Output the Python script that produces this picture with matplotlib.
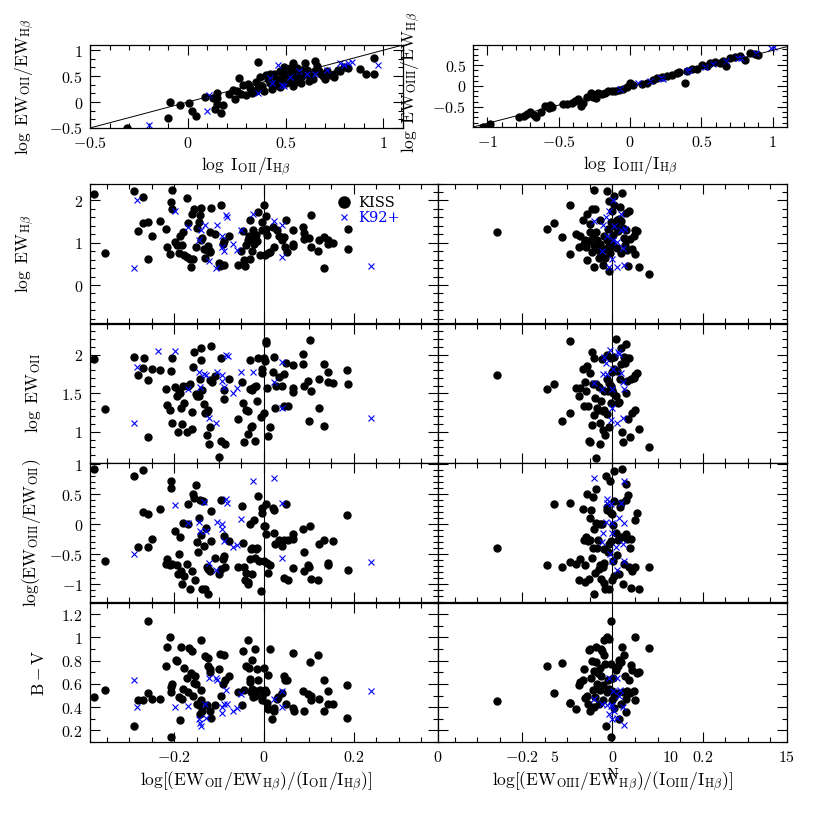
import numpy as np
import matplotlib
matplotlib.use('Agg')
import matplotlib.pyplot as plt
from matplotlib.ticker import MultipleLocator, FuncFormatter, NullFormatter

plt.rcParams['mathtext.fontset'] = 'cm'
plt.rcParams['font.family'] = 'serif'

# ---- top panels: EW ratio vs line intensity ratio ----
oii_kiss = [(-0.31, -0.50), (-0.09, 0.0), (-0.10, -0.31), (-0.04, -0.065), (0.007, -0.02), (0.02, -0.18),
            (0.04, -0.26), (0.086, 0.10), (0.13, 0.07), (0.14, -0.13), (0.15, 0.18), (0.15, -0.03),
            (0.17, -0.22), (0.18, -0.05), (0.15, 0.08), (0.21, 0.16), (0.23, 0.24), (0.25, 0.22),
            (0.26, 0.46), (0.28, 0.32), (0.30, 0.13), (0.31, 0.35), (0.32, 0.28), (0.35, 0.22),
            (0.36, 0.77), (0.35, 0.38), (0.37, 0.48), (0.38, 0.30), (0.40, 0.52), (0.39, 0.22),
            (0.42, 0.37), (0.43, 0.26), (0.44, 0.55), (0.45, 0.42), (0.46, 0.36), (0.47, 0.59),
            (0.48, 0.48), (0.49, 0.68), (0.50, 0.36), (0.51, 0.55), (0.52, 0.43), (0.53, 0.62),
            (0.54, 0.75), (0.54, 0.50), (0.55, 0.39), (0.56, 0.65), (0.57, 0.59), (0.58, 0.49),
            (0.59, 0.52), (0.60, 0.75), (0.61, 0.62), (0.63, 0.49), (0.65, 0.80), (0.65, 0.59),
            (0.66, 0.70), (0.68, 0.55), (0.70, 0.45), (0.71, 0.59), (0.73, 0.52), (0.75, 0.49),
            (0.75, 0.55), (0.77, 0.62), (0.78, 0.59), (0.80, 0.68), (0.82, 0.65), (0.88, 0.63),
            (0.91, 0.55), (0.95, 0.84), (0.95, 0.55), (0.41, 0.45), (0.44, 0.33), (0.47, 0.44),
            (0.49, 0.52), (0.50, 0.60), (0.52, 0.66), (0.55, 0.58), (0.57, 0.45), (0.58, 0.62),
            (0.62, 0.55), (0.64, 0.45), (0.67, 0.60), (0.69, 0.50), (0.47, 0.29), (0.42, 0.55),
            (0.36, 0.28), (0.33, 0.17), (0.27, 0.15), (0.24, 0.05), (0.54, 0.30), (0.58, 0.36),
            (0.62, 0.40)]
oii_k92 = [(-0.20, -0.44), (0.10, -0.18), (0.11, 0.13), (0.36, 0.18), (0.42, 0.46), (0.46, 0.71),
           (0.43, 0.36), (0.48, 0.33), (0.49, 0.30), (0.52, 0.48), (0.57, 0.59), (0.61, 0.55),
           (0.65, 0.55), (0.71, 0.62), (0.78, 0.75), (0.80, 0.72), (0.82, 0.75), (0.84, 0.77),
           (0.97, 0.72)]

oiii_kiss = [(-1.03, -0.97), (-0.984, -0.90), (-0.78, -0.75), (-0.746, -0.71), (-0.723, -0.67), (-0.70, -0.61),
             (-0.676, -0.69), (-0.657, -0.73), (-0.625, -0.61), (-0.594, -0.48), (-0.571, -0.53),
             (-0.559, -0.45), (-0.548, -0.51), (-0.471, -0.43), (-0.443, -0.43), (-0.408, -0.40),
             (-0.385, -0.37), (-0.361, -0.32), (-0.345, -0.48), (-0.326, -0.40), (-0.303, -0.27),
             (-0.275, -0.17), (-0.256, -0.27), (-0.238, -0.29), (-0.221, -0.17), (-0.198, -0.19),
             (-0.175, -0.16), (-0.152, -0.13), (-0.128, -0.11), (-0.105, -0.13), (-0.075, -0.10),
             (-0.047, -0.08), (-0.023, -0.03), (0.0, 0.06), (0.023, 0.02), (0.082, 0.05), (0.117, 0.08),
             (0.163, 0.14), (0.186, 0.18), (0.221, 0.22), (0.256, 0.24), (0.291, 0.26), (0.326, 0.32),
             (0.345, 0.34), (0.385, 0.08), (0.396, 0.37), (0.431, 0.40), (0.466, 0.40), (0.501, 0.50),
             (0.536, 0.48), (0.559, 0.54), (0.594, 0.58), (0.629, 0.56), (0.653, 0.60), (0.671, 0.48),
             (0.699, 0.66), (0.734, 0.70), (0.769, 0.71), (0.804, 0.63), (0.839, 0.78), (0.874, 0.76),
             (0.897, 0.74)]
oiii_k92 = [(-0.07, -0.08), (0.058, 0.06), (0.14, 0.13), (0.214, 0.20), (0.233, 0.17), (0.396, 0.36),
            (0.415, 0.38), (0.524, 0.46), (0.583, 0.52), (0.676, 0.60), (0.758, 0.68), (0.781, 0.68),
            (0.886, 0.79), (0.986, 0.90), (1.01, 0.92)]

# ---- left column: x = log[(EW_OII/EW_Hb)/(I_OII/I_Hb)] ----
ewhb_l_kiss = [(-0.379, 2.16), (-0.353, 0.75), (-0.29, 2.22), (-0.28, 1.27), (-0.268, 2.09), (-0.27, 1.47),
               (-0.257, 1.49), (-0.257, 0.61), (-0.25, 1.17), (-0.232, 1.52), (-0.217, 1.33), (-0.215, 0.90),
               (-0.21, 0.74), (-0.207, 1.96), (-0.205, 2.26), (-0.205, 1.80), (-0.198, 1.02), (-0.194, 0.95),
               (-0.19, 0.75), (-0.187, 1.15), (-0.183, 0.95), (-0.18, 1.25), (-0.178, 0.71), (-0.172, 2.05),
               (-0.172, 0.67), (-0.168, 1.47), (-0.164, 0.61), (-0.163, 0.42), (-0.159, 1.69), (-0.157, 0.61),
               (-0.156, 1.80), (-0.152, 0.91), (-0.150, 1.35), (-0.145, 1.49), (-0.142, 1.65), (-0.14, 1.07),
               (-0.139, 1.82), (-0.138, 1.11), (-0.133, 0.86), (-0.131, 0.63), (-0.127, 0.83), (-0.124, 0.93),
               (-0.121, 0.81), (-0.12, 0.77), (-0.119, 1.25), (-0.118, 1.82), (-0.11, 1.21), (-0.101, 0.53),
               (-0.098, 0.44), (-0.096, 1.89), (-0.092, 0.98), (-0.089, 0.48), (-0.088, 1.03), (-0.077, 1.15),
               (-0.057, 0.48), (-0.05, 0.81), (-0.046, 1.27), (-0.044, 0.60), (-0.043, 0.44), (-0.04, 0.95),
               (-0.035, 1.06), (-0.033, 1.17), (-0.031, 0.61), (-0.03, 1.53), (-0.027, 0.81), (-0.024, 1.29),
               (-0.022, 0.98), (-0.02, 1.06), (-0.018, 1.19), (-0.015, 1.03), (-0.013, 1.73), (-0.009, 0.71),
               (-0.005, 1.48), (-0.004, 1.29), (0.001, 1.89), (0.002, 0.71), (0.004, 1.63), (0.004, 1.33),
               (0.006, 1.19), (0.008, 0.75), (0.013, 0.77), (0.019, 1.37), (0.022, 0.91), (0.028, 1.29),
               (0.033, 1.15), (0.039, 1.07), (0.044, 1.13), (0.047, 0.90), (0.048, 1.55), (0.052, 0.79),
               (0.064, 0.98), (0.065, 0.93), (0.065, 1.29), (0.087, 1.37), (0.089, 1.23), (0.089, 1.09),
               (0.10, 1.11), (0.104, 0.89), (0.104, 1.65), (0.121, 0.81), (0.122, 1.06), (0.133, 1.13),
               (0.133, 0.41), (0.143, 1.07), (0.143, 0.98), (0.154, 0.99), (0.186, 1.33), (0.186, 0.86)]
ewhb_l_k92 = [(-0.288, 0.41), (-0.283, 2.02), (-0.198, 1.75), (-0.17, 1.37), (-0.144, 1.07), (-0.141, 1.31),
              (-0.131, 1.43), (-0.122, 0.57), (-0.107, 0.41), (-0.105, 1.43), (-0.094, 1.15), (-0.093, 0.91),
              (-0.089, 0.81), (-0.084, 1.65), (-0.083, 1.60), (-0.068, 0.98), (-0.059, 0.83), (-0.05, 1.29),
              (-0.025, 1.67), (0.022, 1.52), (0.041, 1.43), (0.041, 0.67), (0.239, 0.46)]

ewoii_l_kiss = [(-0.379, 1.94), (-0.353, 1.30), (-0.29, 1.97), (-0.28, 1.74), (-0.268, 1.82), (-0.267, 1.96),
                (-0.257, 1.67), (-0.257, 0.93), (-0.25, 1.81), (-0.232, 1.80), (-0.217, 1.55), (-0.215, 1.35),
                (-0.21, 1.29), (-0.207, 1.79), (-0.205, 1.96), (-0.205, 1.11), (-0.198, 1.58), (-0.194, 1.46),
                (-0.192, 1.0), (-0.189, 1.53), (-0.187, 1.50), (-0.183, 1.10), (-0.18, 1.59), (-0.184, 1.31),
                (-0.178, 1.37), (-0.172, 1.0), (-0.168, 1.60), (-0.164, 1.62), (-0.161, 1.04), (-0.159, 1.26),
                (-0.157, 1.84), (-0.156, 2.03), (-0.152, 1.49), (-0.150, 1.47), (-0.145, 1.46), (-0.142, 1.69),
                (-0.141, 1.93), (-0.139, 2.09), (-0.138, 1.54), (-0.133, 1.36), (-0.131, 1.25), (-0.127, 1.26),
                (-0.124, 1.29), (-0.126, 0.96), (-0.122, 0.84), (-0.121, 1.67), (-0.12, 1.06), (-0.118, 2.11),
                (-0.116, 1.65), (-0.11, 1.72), (-0.101, 0.68), (-0.096, 1.96), (-0.096, 0.88), (-0.09, 1.42),
                (-0.088, 1.54), (-0.086, 0.85), (-0.077, 1.68), (-0.057, 1.17), (-0.048, 1.64), (-0.046, 1.37),
                (-0.044, 0.87), (-0.041, 1.29), (-0.036, 1.27), (-0.035, 0.97), (-0.031, 1.56), (-0.03, 1.93),
                (-0.029, 1.07), (-0.027, 1.08), (-0.026, 1.54), (-0.022, 1.58), (-0.02, 0.89), (-0.018, 1.60),
                (-0.015, 1.40), (-0.013, 1.96), (-0.007, 1.19), (-0.005, 1.81), (-0.004, 1.76), (-0.001, 1.95),
                (0.0, 1.24), (0.002, 1.92), (0.004, 2.18), (0.004, 2.15), (0.007, 1.57), (0.01, 0.95),
                (0.013, 1.06), (0.019, 1.77), (0.023, 1.97), (0.024, 1.31), (0.026, 1.60), (0.034, 1.71),
                (0.039, 1.59), (0.044, 1.75), (0.044, 1.34), (0.049, 1.89), (0.054, 1.33), (0.064, 1.87),
                (0.064, 1.57), (0.065, 1.51), (0.087, 2.01), (0.087, 1.88), (0.089, 1.60), (0.099, 1.66),
                (0.10, 1.14), (0.102, 2.19), (0.104, 1.53), (0.122, 1.31), (0.123, 1.69), (0.133, 1.88),
                (0.133, 1.08), (0.143, 1.77), (0.143, 1.65), (0.154, 1.63), (0.185, 1.80), (0.186, 1.62)]
ewoii_l_k92 = [(-0.288, 1.12), (-0.283, 1.84), (-0.235, 2.04), (-0.199, 2.05), (-0.17, 1.55), (-0.144, 1.78),
               (-0.142, 1.58), (-0.133, 1.75), (-0.13, 1.74), (-0.122, 1.18), (-0.107, 1.12), (-0.105, 1.77),
               (-0.094, 1.74), (-0.094, 1.66), (-0.09, 1.58), (-0.084, 2.0), (-0.081, 1.98), (-0.068, 1.50),
               (-0.059, 1.57), (-0.05, 1.77), (-0.025, 1.78), (0.022, 1.65), (0.041, 1.90), (0.041, 1.31),
               (0.239, 1.18)]

ewr_l_kiss = [(-0.379, 0.93), (-0.353, -0.62), (-0.29, 0.81), (-0.28, -0.38), (-0.268, 0.90), (-0.27, 0.21),
              (-0.257, 0.17), (-0.257, -0.38), (-0.25, -0.25), (-0.232, 0.25), (-0.217, -0.66), (-0.215, -0.58),
              (-0.21, -0.69), (-0.207, 0.73), (-0.207, 0.60), (-0.205, -0.66), (-0.198, -0.11), (-0.194, -0.69),
              (-0.192, -0.84), (-0.189, -0.49), (-0.187, -0.22), (-0.184, -0.78), (-0.183, -1.0), (-0.18, 0.02),
              (-0.178, -0.86), (-0.172, -0.66), (-0.168, 0.0), (-0.168, 0.33), (-0.164, -1.08), (-0.159, -0.78),
              (-0.157, 0.50), (-0.156, 0.44), (-0.153, -0.93), (-0.151, 0.66), (-0.15, -0.29), (-0.146, -0.46),
              (-0.145, 0.11), (-0.142, 0.40), (-0.139, -0.18), (-0.138, -1.08), (-0.135, 0.39), (-0.132, -1.08),
              (-0.133, -0.36), (-0.129, -0.06), (-0.126, -0.72), (-0.124, -1.17), (-0.124, -0.75), (-0.121, -0.78),
              (-0.118, 0.22), (-0.118, -0.28), (-0.11, -0.56), (-0.101, -0.83), (-0.096, 0.40), (-0.096, -0.75),
              (-0.092, -0.58), (-0.09, -0.53), (-0.088, -0.19), (-0.086, -0.72), (-0.077, -0.28), (-0.057, -0.72),
              (-0.048, 0.31), (-0.046, -0.31), (-0.044, -0.72), (-0.043, -0.94), (-0.041, -0.81), (-0.036, -0.97),
              (-0.035, -1.0), (-0.031, -0.58), (-0.03, 0.0), (-0.029, -0.42), (-0.027, -0.39), (-0.026, -0.84),
              (-0.022, 0.07), (-0.02, -0.56), (-0.018, -0.42), (-0.015, -0.40), (-0.013, 0.47), (-0.01, -0.61),
              (-0.007, -1.11), (-0.005, 0.27), (-0.004, 0.19), (-0.001, -0.03), (0.0, -0.61), (0.002, -0.03),
              (0.004, 0.34), (0.004, -0.16), (0.007, -0.64), (0.01, -0.81), (0.013, -0.68), (0.019, 0.27),
              (0.023, 0.23), (0.023, -0.14), (0.024, -0.33), (0.034, -0.26), (0.039, -0.36), (0.044, -0.26),
              (0.044, -0.9), (0.049, 0.34), (0.054, -0.93), (0.054, -0.27), (0.064, -0.25), (0.065, -0.17),
              (0.065, -0.73), (0.087, -0.08), (0.089, -0.46), (0.089, -0.79), (0.099, -0.69), (0.10, -0.72),
              (0.102, -0.03), (0.104, -0.92), (0.121, -0.93), (0.122, -0.33), (0.133, -0.27), (0.143, -0.64),
              (0.143, -0.68), (0.154, -0.28), (0.185, 0.15), (0.186, -0.76)]
ewr_l_k92 = [(-0.288, -0.5), (-0.199, 0.32), (-0.17, 0.02), (-0.144, 0.03), (-0.142, -0.11), (-0.133, 0.37),
             (-0.13, -0.12), (-0.122, -0.65), (-0.107, -0.77), (-0.105, 0.03), (-0.094, 0.0), (-0.094, -0.08),
             (-0.09, -0.28), (-0.084, 0.42), (-0.083, 0.36), (-0.068, -0.38), (-0.059, -0.34), (-0.05, 0.09),
             (-0.025, 0.73), (0.022, 0.77), (0.041, 0.35), (0.041, -0.56), (0.239, -0.63)]

bv_l_kiss = [(-0.379, 0.49), (-0.353, 0.55), (-0.289, 0.24), (-0.28, 0.46), (-0.268, 0.46), (-0.257, 1.14),
             (-0.257, 0.52), (-0.25, 0.47), (-0.232, 0.47), (-0.217, 0.75), (-0.215, 0.92), (-0.21, 1.0),
             (-0.207, 0.14), (-0.207, 0.57), (-0.205, 0.60), (-0.207, 0.53), (-0.195, 0.81), (-0.194, 0.80),
             (-0.19, 0.49), (-0.187, 0.29), (-0.184, 0.92), (-0.183, 0.47), (-0.18, 0.56), (-0.178, 0.74),
             (-0.172, 0.65), (-0.168, 0.53), (-0.166, 0.91), (-0.163, 0.69), (-0.159, 0.88), (-0.157, 0.50),
             (-0.156, 0.61), (-0.153, 0.67), (-0.151, 0.60), (-0.148, 0.43), (-0.145, 0.42), (-0.142, 0.34),
             (-0.14, 0.46), (-0.139, 0.98), (-0.139, 0.55), (-0.137, 0.37), (-0.132, 0.84), (-0.126, 0.42),
             (-0.124, 0.82), (-0.124, 0.75), (-0.121, 0.70), (-0.121, 0.73), (-0.119, 0.37), (-0.117, 0.31),
             (-0.11, 0.42), (-0.101, 0.73), (-0.098, 0.86), (-0.096, 0.50), (-0.092, 0.60), (-0.089, 0.85),
             (-0.086, 0.63), (-0.077, 0.67), (-0.057, 0.53), (-0.048, 0.42), (-0.046, 0.88), (-0.044, 0.55),
             (-0.04, 0.75), (-0.036, 0.98), (-0.033, 0.74), (-0.031, 0.64), (-0.03, 0.62), (-0.029, 0.53),
             (-0.027, 0.81), (-0.026, 0.56), (-0.024, 0.49), (-0.021, 0.50), (-0.02, 0.90), (-0.018, 0.54),
             (-0.015, 0.73), (-0.013, 0.63), (-0.009, 0.55), (-0.005, 0.49), (-0.004, 0.46), (-0.001, 0.74),
             (0.002, 0.55), (0.004, 0.53), (0.006, 0.44), (0.008, 0.68), (0.008, 0.38), (0.013, 0.90),
             (0.017, 0.30), (0.022, 0.37), (0.023, 0.39), (0.028, 0.47), (0.031, 0.49), (0.039, 0.52),
             (0.044, 0.67), (0.047, 0.63), (0.048, 0.43), (0.052, 0.63), (0.064, 0.39), (0.065, 0.87),
             (0.067, 0.37), (0.087, 0.54), (0.089, 0.37), (0.099, 0.51), (0.102, 0.79), (0.104, 0.50),
             (0.104, 0.46), (0.121, 0.85), (0.123, 0.47), (0.133, 0.63), (0.133, 0.37), (0.143, 0.54),
             (0.143, 0.43), (0.154, 0.43), (0.185, 0.59), (0.185, 0.31)]
bv_l_k92 = [(-0.288, 0.63), (-0.283, 0.40), (-0.199, 0.40), (-0.17, 0.41), (-0.144, 0.30), (-0.142, 0.26),
            (-0.141, 0.24), (-0.131, 0.43), (-0.13, 0.31), (-0.122, 0.65), (-0.107, 0.65), (-0.105, 0.63),
            (-0.094, 0.40), (-0.093, 0.35), (-0.089, 0.43), (-0.084, 0.55), (-0.083, 0.43), (-0.068, 0.37),
            (-0.059, 0.39), (-0.05, 0.51), (0.022, 0.47), (0.041, 0.54), (0.041, 0.40), (0.239, 0.54)]

# ---- right column: x = log[(EW_OIII/EW_Hb)/(I_OIII/I_Hb)] ----
ewhb_r_kiss = [(-0.256, 1.26), (-0.146, 1.33), (-0.13, 1.47), (-0.113, 1.13), (-0.095, 0.74), (-0.094, 1.89),
               (-0.081, 1.21), (-0.075, 0.91), (-0.072, 1.17), (-0.066, 1.53), (-0.063, 0.98), (-0.061, 1.06),
               (-0.058, 0.90), (-0.057, 1.69), (-0.057, 0.60), (-0.053, 1.03), (-0.051, 1.45), (-0.049, 1.25),
               (-0.045, 1.80), (-0.045, 0.79), (-0.043, 1.15), (-0.042, 0.95), (-0.04, 2.26), (-0.04, 0.42),
               (-0.038, 1.80), (-0.037, 1.25), (-0.034, 1.07), (-0.033, 0.83), (-0.031, 0.90), (-0.031, 0.63),
               (-0.028, 1.55), (-0.027, 0.98), (-0.025, 0.71), (-0.023, 0.79), (-0.021, 0.48), (-0.019, 1.15),
               (-0.018, 0.86), (-0.016, 0.63), (-0.013, 2.22), (-0.012, 1.07), (-0.01, 1.33), (-0.01, 0.91),
               (-0.008, 0.32), (-0.007, 1.98), (-0.006, 0.75), (-0.004, 1.48), (-0.003, 1.03), (-0.002, 1.75),
               (-0.001, 1.47), (0.001, 1.19), (0.001, 0.93), (0.003, 2.10), (0.004, 1.89), (0.007, 1.37),
               (0.009, 1.55), (0.01, 0.87), (0.012, 1.27), (0.014, 1.56), (0.016, 1.84), (0.018, 1.51),
               (0.019, 0.75), (0.022, 2.17), (0.024, 1.35), (0.025, 1.11), (0.028, 0.95), (0.029, 1.31),
               (0.031, 1.71), (0.033, 0.83), (0.034, 0.46), (0.037, 1.75), (0.039, 1.09), (0.044, 0.85),
               (0.048, 1.15), (0.049, 1.29), (0.051, 0.73), (0.055, 1.27), (0.059, 0.42), (0.08, 0.25)]
ewhb_r_k92 = [(-0.042, 1.52), (-0.021, 1.43), (-0.014, 1.61), (-0.007, 1.75), (-0.023, 0.81), (-0.012, 1.17),
              (-0.007, 0.42), (-0.001, 0.61), (0.001, 2.01), (0.003, 1.40), (0.001, 1.07), (0.009, 0.42),
              (0.01, 1.01), (0.018, 1.31), (0.019, 1.67), (0.024, 0.87), (0.025, 0.48), (0.027, 1.33)]

ewoii_r_kiss = [(-0.256, 1.74), (-0.146, 1.55), (-0.13, 1.62), (-0.113, 1.14), (-0.095, 1.24), (-0.094, 2.18),
                (-0.081, 1.57), (-0.075, 1.47), (-0.072, 1.57), (-0.066, 1.81), (-0.063, 1.34), (-0.061, 1.65),
                (-0.058, 1.53), (-0.057, 1.85), (-0.055, 1.33), (-0.053, 0.88), (-0.051, 1.76), (-0.049, 0.87),
                (-0.045, 2.03), (-0.045, 1.09), (-0.043, 1.62), (-0.042, 1.96), (-0.04, 1.22), (-0.038, 1.44),
                (-0.036, 0.67), (-0.036, 1.62), (-0.034, 1.31), (-0.033, 1.29), (-0.031, 1.58), (-0.028, 0.84),
                (-0.027, 1.11), (-0.025, 1.40), (-0.023, 1.94), (-0.022, 1.02), (-0.021, 1.27), (-0.019, 1.53),
                (-0.018, 1.29), (-0.016, 0.96), (-0.013, 2.0), (-0.013, 1.68), (-0.012, 1.23), (-0.01, 1.53),
                (-0.008, 1.63), (-0.007, 1.06), (-0.004, 1.96), (-0.004, 1.38), (-0.003, 1.59), (-0.002, 1.78),
                (-0.001, 1.54), (0.001, 1.50), (0.003, 1.81), (0.004, 1.97), (0.007, 2.20), (0.007, 1.47),
                (0.009, 1.79), (0.012, 1.38), (0.014, 1.39), (0.016, 1.68), (0.018, 2.08), (0.019, 1.88),
                (0.022, 1.0), (0.024, 0.87), (0.025, 1.97), (0.027, 1.89), (0.029, 1.50), (0.029, 2.14),
                (0.031, 1.95), (0.033, 1.66), (0.034, 1.17), (0.037, 1.96), (0.039, 0.93), (0.04, 1.68),
                (0.044, 1.25), (0.048, 1.70), (0.049, 1.73), (0.051, 1.29), (0.055, 1.76), (0.059, 1.04),
                (0.08, 0.81)]
ewoii_r_k92 = [(-0.042, 1.63), (-0.021, 1.75), (-0.014, 1.89), (-0.018, 1.97), (-0.006, 2.06), (0.012, 2.03),
               (0.014, 2.01), (-0.012, 1.75), (0.001, 1.81), (0.018, 1.76), (0.024, 1.65), (0.025, 1.56),
               (-0.023, 1.56), (-0.001, 1.55), (-0.001, 1.31), (-0.004, 1.16), (0.009, 1.12), (0.024, 1.18)]

ewr_r_kiss = [(-0.256, -0.39), (-0.146, -0.68), (-0.13, 0.33), (-0.113, -0.72), (-0.095, -0.63), (-0.094, 0.35),
              (-0.081, -0.67), (-0.075, -0.93), (-0.072, -0.58), (-0.066, 0.25), (-0.063, -0.27), (-0.061, -0.68),
              (-0.061, -0.97), (-0.058, -0.21), (-0.057, 0.50), (-0.055, -0.28), (-0.053, -0.92), (-0.051, 0.10),
              (-0.049, -0.26), (-0.047, 0.23), (-0.045, -0.56), (-0.044, -0.40), (-0.043, 0.46), (-0.042, -0.08),
              (-0.04, -1.17), (-0.038, -0.81), (-0.037, 0.58), (-0.037, 0.02), (-0.034, -0.40), (-0.033, -0.27),
              (-0.031, -0.75), (-0.028, 0.0), (-0.027, -0.68), (-0.025, -0.92), (-0.023, 0.0), (-0.022, -0.72),
              (-0.019, -0.42), (-0.019, -0.99), (-0.018, -0.64), (-0.016, -1.08), (-0.014, 0.81), (-0.013, 0.28),
              (-0.012, 0.23), (-0.01, -0.46), (-0.008, -1.08), (-0.007, -0.33), (-0.006, 0.72), (-0.004, -0.28),
              (-0.003, 0.19), (-0.002, -0.94), (-0.001, 0.17), (0.001, -0.61), (0.001, -0.02), (0.003, -0.86),
              (0.004, 0.89), (0.004, 0.39), (0.007, -0.14), (0.009, -0.51), (0.012, -0.27), (0.014, -0.84),
              (0.016, 0.28), (0.018, 0.36), (0.019, -0.21), (0.022, 0.92), (0.023, -1.0), (0.025, -0.67),
              (0.029, -0.17), (0.031, 0.40), (0.033, -0.25), (0.034, 0.48), (0.037, -0.72), (0.039, -0.40),
              (0.04, -0.25), (0.042, -1.07), (0.044, -0.78), (0.049, 0.07), (0.051, -0.71), (0.055, 0.19),
              (0.059, -1.09), (0.08, -0.71), (0.03, 0.67)]
ewr_r_k92 = [(-0.042, 0.77), (-0.013, 0.42), (-0.012, 0.36), (-0.004, 0.33), (0.019, 0.36), (0.025, 0.73),
             (-0.021, -0.14), (-0.014, 0.03), (-0.001, 0.02), (0.014, 0.10), (0.025, 0.02), (-0.023, -0.29),
             (-0.001, -0.14), (0.008, -0.38), (0.024, -0.33), (-0.006, -0.50), (-0.001, -0.61), (0.009, -0.77),
             (0.025, -0.61)]

bv_r_kiss = [(-0.256, 0.45), (-0.146, 0.75), (-0.13, 0.52), (-0.113, 0.78), (-0.095, 0.44), (-0.094, 0.44),
             (-0.081, 0.38), (-0.075, 0.59), (-0.072, 0.62), (-0.066, 0.63), (-0.063, 0.73), (-0.061, 0.48),
             (-0.057, 0.50), (-0.055, 0.43), (-0.053, 0.89), (-0.051, 0.37), (-0.049, 0.90), (-0.047, 0.65),
             (-0.045, 0.80), (-0.044, 0.55), (-0.042, 0.40), (-0.04, 0.71), (-0.038, 0.49), (-0.037, 0.79),
             (-0.036, 0.92), (-0.034, 0.60), (-0.033, 0.69), (-0.031, 0.43), (-0.028, 0.74), (-0.027, 0.55),
             (-0.025, 0.90), (-0.025, 0.67), (-0.023, 0.88), (-0.022, 0.59), (-0.021, 0.46), (-0.019, 0.98),
             (-0.018, 0.85), (-0.016, 0.77), (-0.014, 0.24), (-0.013, 0.53), (-0.012, 1.0), (-0.01, 0.63),
             (-0.008, 0.99), (-0.007, 0.56), (-0.004, 0.77), (-0.004, 0.14), (-0.003, 1.14), (-0.002, 0.46),
             (-0.001, 0.54), (0.001, 0.65), (0.003, 0.49), (0.004, 0.39), (0.007, 0.72), (0.009, 0.52),
             (0.012, 0.75), (0.014, 0.81), (0.015, 0.30), (0.018, 0.79), (0.019, 0.43), (0.022, 0.92),
             (0.024, 0.53), (0.025, 0.85), (0.027, 0.67), (0.029, 0.47), (0.031, 0.36), (0.033, 0.54),
             (0.037, 0.63), (0.039, 0.52), (0.04, 0.76), (0.044, 0.72), (0.048, 0.54), (0.049, 1.0),
             (0.051, 0.46), (0.055, 0.69), (0.059, 0.70), (0.08, 0.91)]
bv_r_k92 = [(-0.042, 0.47), (-0.023, 0.43), (-0.008, 0.65), (0.009, 0.65), (0.001, 0.54), (0.016, 0.55),
            (0.014, 0.50), (-0.012, 0.42), (-0.004, 0.41), (-0.001, 0.42), (0.003, 0.37), (0.024, 0.40),
            (-0.008, 0.34), (-0.001, 0.30), (0.025, 0.25), (0.009, 0.31)]

# fit line in the top-right panel
oiii_line_x = [-1.1, 1.1]
oiii_line_y = [-0.98, 0.94]
n_ticks = [0, 5, 10, 15]

row_labels = [r'$\log\ {\rm EW}_{{\rm H}\beta}$',
              r'$\log\ {\rm EW}_{\rm OII}$',
              r'$\log({\rm EW}_{\rm OIII}/{\rm EW}_{\rm OII})$',
              r'${\rm B-V}$']
row_ylims = [(-0.9, 2.4), (0.6, 2.4), (-1.3, 1.03), (0.1, 1.3)]
row_yticks = [(1, 0.2), (0.5, 0.1), (0.5, 0.1), (0.2, 0.1)]
row_labelx = [-0.152, -0.135, -0.135, -0.121]

KISS_KW = dict(ls='none', marker='o', ms=5.0, color='black', mec='black')
K92_KW = dict(ls='none', marker='x', ms=5.0, mew=0.8, color='blue')
LABEL_FS = 12.5
TICK_FS = 11.5


def fmt(v, pos):
    if abs(v) < 1e-9:
        v = 0.0
    return '$%g$' % round(v, 6)


def style(ax, xmaj, xmin, ymaj, ymin):
    ax.xaxis.set_major_locator(MultipleLocator(xmaj))
    ax.xaxis.set_minor_locator(MultipleLocator(xmin))
    ax.yaxis.set_major_locator(MultipleLocator(ymaj))
    ax.yaxis.set_minor_locator(MultipleLocator(ymin))
    ax.xaxis.set_major_formatter(FuncFormatter(fmt))
    ax.yaxis.set_major_formatter(FuncFormatter(fmt))
    ax.tick_params(which='both', direction='in', top=True, right=True, width=0.8,
                   labelsize=TICK_FS, pad=5)
    ax.tick_params(which='major', length=7)
    ax.tick_params(which='minor', length=3.5)
    for s in ax.spines.values():
        s.set_linewidth(0.9)


def scatter(ax, kiss, k92):
    kx, ky = np.array(kiss).T
    cx, cy = np.array(k92).T
    ax.plot(kx, ky, label='KISS', **KISS_KW)
    ax.plot(cx, cy, label='K92+', **K92_KW)


fig = plt.figure(figsize=(8.3, 8.3), dpi=100)

# top-left
ax = fig.add_axes([0.1084, 0.8458, 0.3771, 0.1])
scatter(ax, oii_kiss, oii_k92)
ax.plot([-0.5, 1.1], [-0.5, 1.1], color='black', lw=0.7)
ax.set_xlim(-0.5, 1.1)
ax.set_ylim(-0.5, 1.1)
style(ax, 0.5, 0.1, 0.5, 0.5 / 3)
ax.set_xlabel(r'$\log\ {\rm I}_{\rm OII}/{\rm I}_{{\rm H}\beta}$', fontsize=LABEL_FS)
ax.xaxis.set_label_coords(0.5, -0.33)
ax.set_ylabel(r'$\log\ {\rm EW}_{\rm OII}/{\rm EW}_{{\rm H}\beta}$', fontsize=LABEL_FS)
ax.yaxis.set_label_coords(-0.17, 0.5)

# top-right
ax = fig.add_axes([0.5699, 0.847, 0.3783, 0.0988])
scatter(ax, oiii_kiss, oiii_k92)
ax.plot(oiii_line_x, oiii_line_y, color='black', lw=0.7)
ax.set_xlim(-1.1, 1.1)
ax.set_ylim(-0.98, 0.98)
style(ax, 0.5, 0.1, 0.5, 0.125)
ax.set_xlabel(r'$\log\ {\rm I}_{\rm OIII}/{\rm I}_{{\rm H}\beta}$', fontsize=LABEL_FS)
ax.xaxis.set_label_coords(0.5, -0.33)
ax.set_ylabel(r'$\log\ {\rm EW}_{\rm OIII}/{\rm EW}_{{\rm H}\beta}$', fontsize=LABEL_FS)
ax.yaxis.set_label_coords(-0.16, 0.55)

# 4x2 grid
left_data = [(ewhb_l_kiss, ewhb_l_k92), (ewoii_l_kiss, ewoii_l_k92),
             (ewr_l_kiss, ewr_l_k92), (bv_l_kiss, bv_l_k92)]
right_data = [(ewhb_r_kiss, ewhb_r_k92), (ewoii_r_kiss, ewoii_r_k92),
              (ewr_r_kiss, ewr_r_k92), (bv_r_kiss, bv_r_k92)]
bottoms = [0.6108, 0.4422, 0.2747, 0.106]
h = 0.1680
for i in range(4):
    for j, data in enumerate([left_data, right_data]):
        left = 0.1084 if j == 0 else 0.5277
        ax = fig.add_axes([left, bottoms[i], 0.4193 if j == 0 else 0.4205, h])
        scatter(ax, *data[i])
        ax.axvline(0, color='black', lw=0.8, zorder=0)
        ax.set_xlim(-0.387, 0.387)
        ax.set_ylim(*row_ylims[i])
        style(ax, 0.2, 0.05, *row_yticks[i])
        if i < 3:
            ax.xaxis.set_major_formatter(NullFormatter())
        if j == 1:
            ax.yaxis.set_major_formatter(NullFormatter())
        else:
            ax.set_ylabel(row_labels[i], fontsize=LABEL_FS)
            ax.yaxis.set_label_coords(row_labelx[i], 0.5)
        if i == 0 and j == 0:
            leg = ax.legend(loc='upper left', bbox_to_anchor=(0.695, 0.955), frameon=False,
                            handlelength=0.9, handletextpad=0.5, labelspacing=0.1,
                            borderaxespad=0, fontsize=10.5)
            leg.legend_handles[0].set_markersize(8)
            leg.get_texts()[1].set_color('blue')
        if i == 3:
            if j == 0:
                ax.set_xlabel(r'$\log[({\rm EW}_{\rm OII}/{\rm EW}_{{\rm H}\beta})/'
                              r'({\rm I}_{\rm OII}/{\rm I}_{{\rm H}\beta})]$', fontsize=LABEL_FS)
                ax.xaxis.set_label_coords(0.477, -0.2)
            else:
                ax.set_xlabel(r'$\log[({\rm EW}_{\rm OIII}/{\rm EW}_{{\rm H}\beta})/'
                              r'({\rm I}_{\rm OIII}/{\rm I}_{{\rm H}\beta})]$', fontsize=LABEL_FS)
                ax.xaxis.set_label_coords(0.5, -0.2)
                # stray histogram axis labels left on the panel
                tw = ax.twiny()
                tw.set_xlim(0, 15)
                tw.set_xticks(n_ticks)
                tw.xaxis.set_major_formatter(FuncFormatter(fmt))
                tw.xaxis.set_ticks_position('bottom')
                tw.xaxis.set_label_position('bottom')
                tw.tick_params(axis='x', length=0, labelsize=TICK_FS, pad=5)
                for s in tw.spines.values():
                    s.set_visible(False)
                tw.set_xlabel(r'${\rm N}$', fontsize=LABEL_FS - 1)
                tw.xaxis.set_label_coords(0.5, -0.17)

fig.savefig('out.png', dpi=100)
